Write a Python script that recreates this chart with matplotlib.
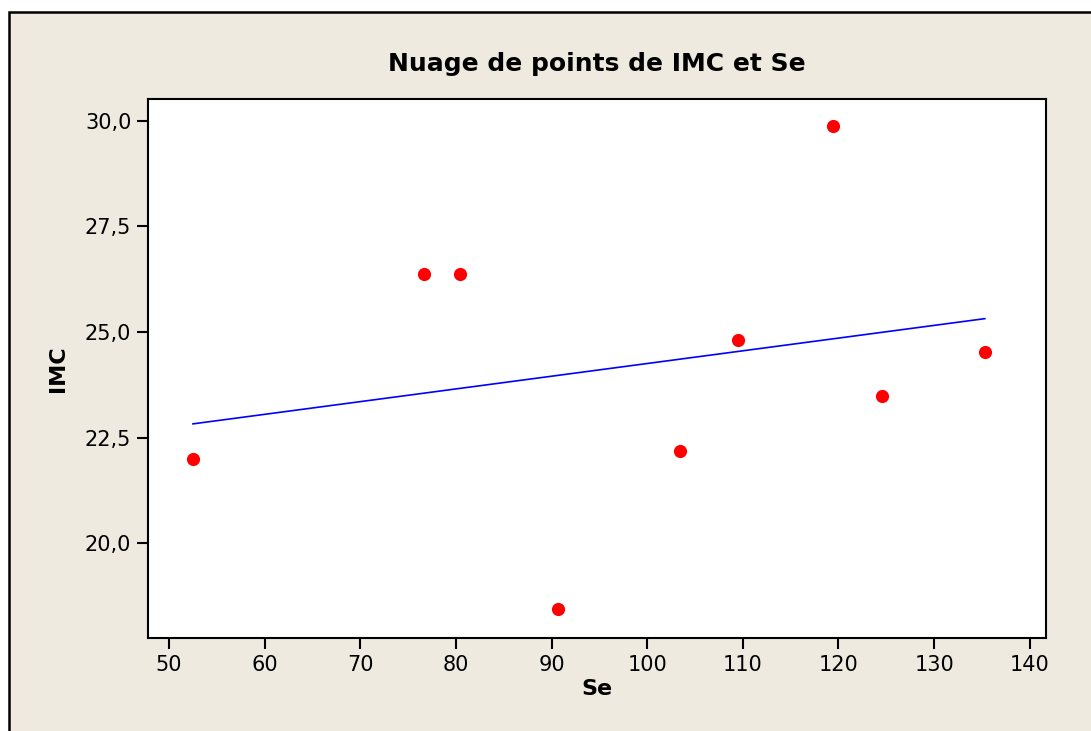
"""
Scatter plot of IMC vs Se with a fitted regression line (Minitab style)
"""

import numpy as np
import matplotlib
matplotlib.use('Agg')
import matplotlib.pyplot as plt
from matplotlib.patches import Rectangle
from matplotlib.ticker import FuncFormatter

# data
se = [52.5, 76.7, 80.4, 90.7, 103.4, 109.5, 119.4, 124.5, 135.3]
imc = [22.0, 26.37, 26.37, 18.44, 22.18, 24.8, 29.88, 23.48, 24.53]

x_ticks = [50, 60, 70, 80, 90, 100, 110, 120, 130, 140]
y_ticks = [20.0, 22.5, 25.0, 27.5, 30.0]

BG = '#EEEAE0'

fig = plt.figure(figsize=(10.91, 7.31), dpi=100, facecolor='white')

# beige panel with black frame (cut off at right/bottom)
fig.patches.append(Rectangle((9 / 1091, -0.05), 1.2, 1 - 12 / 731 + 0.05,
                             transform=fig.transFigure, facecolor=BG,
                             edgecolor='black', linewidth=1.8, zorder=-10))

ax = fig.add_axes([148 / 1091, 1 - 638 / 731, (1046 - 148) / 1091, (638 - 99) / 731])
ax.set_facecolor('white')

ax.scatter(se, imc, s=90, color='#FF0000', zorder=3, linewidths=0)

# least squares fit line over the data range
slope, intercept = np.polyfit(se, imc, 1)
xs = np.array([min(se), max(se)])
ax.plot(xs, slope * xs + intercept, color='#0000FF', linewidth=1.2, zorder=2)

ax.set_xlim(47.8, 141.7)
ax.set_ylim(17.75, 30.52)
ax.set_xticks(x_ticks)
ax.set_yticks(y_ticks)
ax.yaxis.set_major_formatter(FuncFormatter(lambda v, p: f'{v:.1f}'.replace('.', ',')))

ax.tick_params(direction='out', length=8, width=1.5, labelsize=15, pad=4)
for sp in ax.spines.values():
    sp.set_linewidth(1.5)

ax.set_xlabel('Se', fontsize=16, fontweight='bold', labelpad=3)
ax.set_ylabel('IMC', fontsize=16, fontweight='bold', labelpad=12)
ax.set_title('Nuage de points de IMC et Se', fontsize=18, fontweight='bold', pad=20)

plt.savefig('out.png', dpi=100, facecolor=fig.get_facecolor())
